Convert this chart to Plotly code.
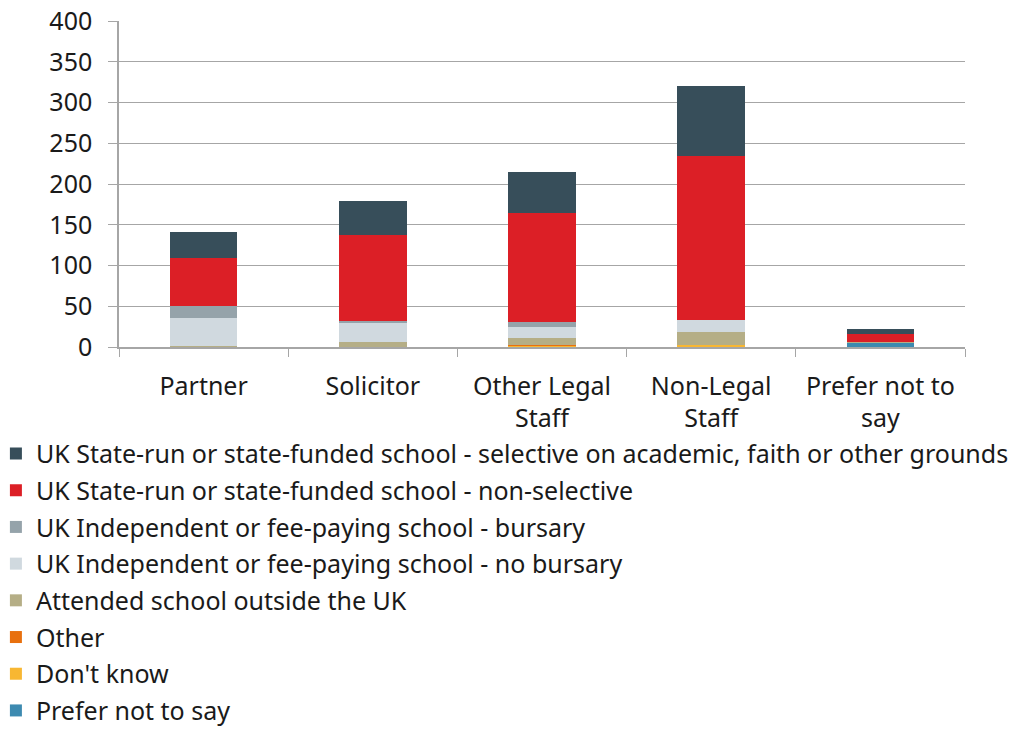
import plotly.graph_objects as go

categories = ["Partner", "Solicitor", "Other Legal<br>Staff", "Non-Legal<br>Staff", "Prefer not to<br>say"]

# Stacked from the bottom of each bar upwards
prefer_not_to_say = [0, 0, 0, 1, 5]
dont_know = [0, 0, 2, 2, 0]
other = [0, 0, 1, 0, 0]
outside_uk = [1, 6, 8, 15, 1]
independent_no_bursary = [34, 23, 14, 15, 0]
independent_bursary = [15, 3, 6, 0, 0]
state_non_selective = [59, 105, 134, 201, 10]
state_selective = [32, 42, 50, 86, 6]

series = [
    ("Prefer not to say", prefer_not_to_say, "#3d8ab0"),
    ("Don't know", dont_know, "#f8b732"),
    ("Other", other, "#e8700e"),
    ("Attended school outside the UK", outside_uk, "#b5ae86"),
    ("UK Independent or fee-paying school - no bursary", independent_no_bursary, "#d0d9df"),
    ("UK Independent or fee-paying school - bursary", independent_bursary, "#95a3aa"),
    ("UK State-run or state-funded school - non-selective", state_non_selective, "#dc1f26"),
    ("UK State-run or state-funded school - selective on academic, faith or other grounds", state_selective, "#374e5a"),
]

font_family = "Noto Sans, Open Sans, sans-serif"
fs = 25

fig = go.Figure()
n = len(series)
for i, (name, vals, color) in enumerate(series):
    # legend lists the top segment first
    fig.add_trace(go.Bar(
        x=categories, y=vals, name=name, legendgroup=f"g{i}",
        legendrank=n - i,
        marker=dict(color=color, line=dict(width=0)),
    ))

fig.update_layout(
    barmode="stack",
    bargap=0.6,
    width=1024, height=729,
    margin=dict(l=119, r=59, t=21, b=382, autoexpand=False),
    paper_bgcolor="white", plot_bgcolor="white",
    font=dict(family=font_family, size=fs, color="#1a1a1a"),
    showlegend=True,
    legend=dict(
        orientation="v", traceorder="grouped",
        x=-0.1455, xanchor="left", y=-0.257, yanchor="top",
        font=dict(size=fs), tracegroupgap=1.2,
        bgcolor="rgba(0,0,0,0)",
    ),
    xaxis=dict(
        showline=True, linecolor="#a6a6a6", linewidth=1.5,
        ticks="outside", tickson="boundaries", ticklen=8, tickcolor="#a6a6a6",
        tickfont=dict(size=fs), ticklabelstandoff=16, automargin=False,
    ),
    yaxis=dict(
        range=[0, 400], tickvals=[0, 50, 100, 150, 200, 250, 300, 350, 400],
        showgrid=True, gridcolor="#a6a6a6", gridwidth=1,
        showline=True, linecolor="#a6a6a6", linewidth=1.5,
        ticks="outside", ticklen=9, tickcolor="#a6a6a6",
        tickfont=dict(size=fs), zeroline=False,
        ticklabelstandoff=11, automargin=False,
    ),
)

fig.write_html("out.html")
